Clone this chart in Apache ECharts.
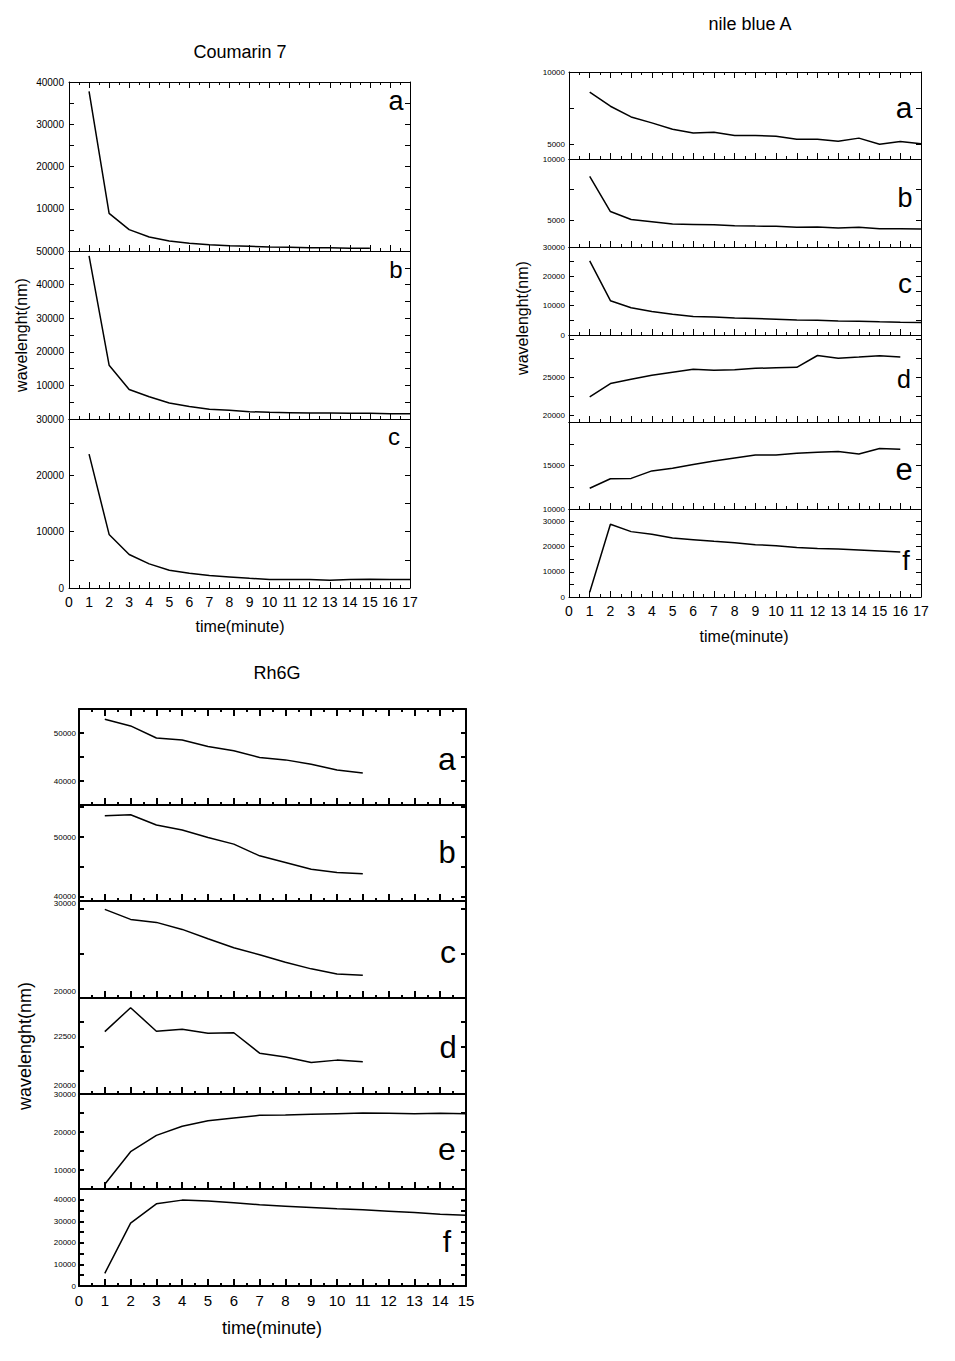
<!DOCTYPE html>
<html><head><meta charset="utf-8">
<script src="https://cdn.jsdelivr.net/npm/echarts@6/dist/echarts.min.js"></script>
<style>html,body{margin:0;padding:0;background:#fff}#c{width:955px;height:1361px}</style>
</head><body><div id="c"></div>
<script>
// ---------- time (x) values ----------
const T11 = [1,2,3,4,5,6,7,8,9,10,11];
const T15 = [1,2,3,4,5,6,7,8,9,10,11,12,13,14,15];
const T16 = [1,2,3,4,5,6,7,8,9,10,11,12,13,14,15,16];
const T17 = [1,2,3,4,5,6,7,8,9,10,11,12,13,14,15,16,17];

// ---------- Coumarin 7 ----------
const C7_a = [37790, 8920, 5050, 3310, 2370, 1810, 1500, 1260, 1100, 950, 870, 790, 790, 630, 630];
const C7_b = [48520, 16010, 8790, 6620, 4740, 3750, 2870, 2570, 2170, 1980, 1880, 1780, 1780, 1680, 1680, 1580, 1580];
const C7_c = [23770, 9510, 5940, 4280, 3150, 2610, 2200, 1960, 1720, 1490, 1490, 1490, 1370, 1490, 1540, 1490, 1490];

// ---------- nile blue A ----------
const NB_a = [8620, 7640, 6900, 6490, 6050, 5800, 5840, 5620, 5620, 5570, 5370, 5370, 5230, 5440, 5020, 5200, 5050];
const NB_b = [8580, 5700, 5050, 4870, 4680, 4650, 4620, 4540, 4510, 4490, 4410, 4430, 4350, 4410, 4300, 4300, 4270];
const NB_c = [25300, 11700, 9300, 8000, 7100, 6300, 6100, 5800, 5600, 5400, 5150, 5000, 4800, 4700, 4500, 4350, 4250];
const NB_d = [22480, 24220, 24780, 25300, 25700, 26090, 25960, 26040, 26220, 26300, 26350, 27910, 27560, 27700, 27870, 27700];
const NB_e = [12380, 13480, 13520, 14380, 14690, 15120, 15510, 15860, 16210, 16210, 16410, 16520, 16600, 16330, 16950, 16880];
const NB_f = [1870, 28930, 26000, 24930, 23470, 22800, 22130, 21600, 20800, 20400, 19730, 19330, 19070, 18670, 18270, 17870];

// ---------- Rh6G ----------
const RH_a = [52870, 51470, 48950, 48530, 47200, 46290, 44900, 44400, 43500, 42310, 41680];
const RH_b = [53580, 53740, 52010, 51170, 49940, 48830, 46870, 45750, 44640, 44080, 43860];
const RH_c = [29390, 28240, 27900, 27100, 26030, 25000, 24200, 23360, 22600, 22020, 21870];
const RH_d = [22770, 24000, 22790, 22890, 22690, 22710, 21660, 21460, 21180, 21300, 21220];
const RH_e = [6250, 14820, 19110, 21520, 22950, 23660, 24380, 24460, 24640, 24820, 25000, 24910, 24820, 24910, 24820];
const RH_f = [5890, 29150, 38140, 39840, 39380, 38600, 37670, 37050, 36430, 35810, 35350, 34730, 34110, 33330, 32870];

// ---------- y tick marks and tick labels ----------
const C7_a_ticks = [0,5000,10000,15000,20000,25000,30000,35000,40000];
const C7_a_labels = [10000,20000,30000,40000];
const C7_b_ticks = [0,5000,10000,15000,20000,25000,30000,35000,40000,45000,50000];
const C7_b_labels = [10000,20000,30000,40000,50000];
const C7_c_ticks = [0,5000,10000,15000,20000,25000,30000];
const C7_c_labels = [0,10000,20000,30000];

const NB_a_ticks = [5000,7500,10000];
const NB_a_labels = [5000,10000];
const NB_b_ticks = [5000,7500,10000];
const NB_b_labels = [5000,10000];
const NB_c_ticks = [0,5000,10000,15000,20000,25000,30000];
const NB_c_labels = [0,10000,20000,30000];
const NB_d_ticks = [20000,22500,25000,27500,30000];
const NB_d_labels = [20000,25000];
const NB_e_ticks = [10000,12500,15000,17500,20000];
const NB_e_labels = [10000,15000];
const NB_f_ticks = [0,5000,10000,15000,20000,25000,30000,35000];
const NB_f_labels = [0,10000,20000,30000];

const RH_a_ticks = [35000,40000,45000,50000,55000];
const RH_a_labels = [40000,50000];
const RH_b_ticks = [40000,45000,50000,55000];
const RH_b_labels = [40000,50000];
const RH_c_ticks = [24350,29400];
const RH_c_labels = [20000,30000];
const RH_d_ticks = [20770,21990,23270];
const RH_d_labels = [20000,22500];
const RH_e_ticks = [5000,10000,15000,20000,25000,30000];
const RH_e_labels = [10000,20000,30000];
const RH_f_ticks = [0,5000,10000,15000,20000,25000,30000,35000,40000,45000];
const RH_f_labels = [0,10000,20000,30000,40000];

const X17_labels = [0,1,2,3,4,5,6,7,8,9,10,11,12,13,14,15,16,17];
const X15_labels = [0,1,2,3,4,5,6,7,8,9,10,11,12,13,14,15];

// ---------- panel layout (positions / styles) ----------
const FONT = '"Liberation Sans", Arial, sans-serif';
const C7g = {left:69, width:341, xMax:17, yFont:10, yMargin:5, xFont:14, frame:1, tw:1, tl:6};
const NBg = {left:569, width:352, xMax:17, yFont:8, yMargin:4, xFont:14, frame:1, tw:1, tl:6};
const RHg = {left:79, width:387, xMax:15, yFont:8, yMargin:3, xFont:15, frame:2, tw:2, tl:7};

const panels = [
  Object.assign({}, C7g, {top:82,  height:169, x:T15, y:C7_a, yMin:0, yMax:40000, ticks:C7_a_ticks, labels:C7_a_labels, first:true}),
  Object.assign({}, C7g, {top:251, height:168, x:T17, y:C7_b, yMin:0, yMax:50000, ticks:C7_b_ticks, labels:C7_b_labels}),
  Object.assign({}, C7g, {top:419, height:169, x:T17, y:C7_c, yMin:0, yMax:30000, ticks:C7_c_ticks, labels:C7_c_labels, showX:true, xl:X17_labels}),

  Object.assign({}, NBg, {top:72,  height:87,  x:T17, y:NB_a, yMin:4000, yMax:10000, ticks:NB_a_ticks, labels:NB_a_labels, first:true}),
  Object.assign({}, NBg, {top:159, height:88,  x:T17, y:NB_b, yMin:2800, yMax:10000, ticks:NB_b_ticks, labels:NB_b_labels}),
  Object.assign({}, NBg, {top:247, height:88,  x:T17, y:NB_c, yMin:0, yMax:30000, ticks:NB_c_ticks, labels:NB_c_labels}),
  Object.assign({}, NBg, {top:335, height:87,  x:T16, y:NB_d, yMin:19170, yMax:30600, ticks:NB_d_ticks, labels:NB_d_labels}),
  Object.assign({}, NBg, {top:422, height:87,  x:T16, y:NB_e, yMin:10000, yMax:20000, ticks:NB_e_ticks, labels:NB_e_labels}),
  Object.assign({}, NBg, {top:509, height:88,  x:T16, y:NB_f, yMin:0, yMax:35000, ticks:NB_f_ticks, labels:NB_f_labels, showX:true, xl:X17_labels}),

  Object.assign({}, RHg, {top:709,  height:96, x:T11, y:RH_a, yMin:35000, yMax:55000, ticks:RH_a_ticks, labels:RH_a_labels, first:true}),
  Object.assign({}, RHg, {top:805,  height:96, x:T11, y:RH_b, yMin:39330, yMax:55360, ticks:RH_b_ticks, labels:RH_b_labels}),
  Object.assign({}, RHg, {top:901,  height:97, x:T11, y:RH_c, yMin:19275, yMax:30340, ticks:RH_c_ticks, labels:RH_c_labels}),
  Object.assign({}, RHg, {top:998,  height:96, x:T11, y:RH_d, yMin:19555, yMax:24500, ticks:RH_d_ticks, labels:RH_d_labels}),
  Object.assign({}, RHg, {top:1094, height:95, x:T15, y:RH_e, yMin:5000, yMax:30000, ticks:RH_e_ticks, labels:RH_e_labels}),
  Object.assign({}, RHg, {top:1189, height:97, x:T15, y:RH_f, yMin:0, yMax:45000, ticks:RH_f_ticks, labels:RH_f_labels, showX:true, xl:X15_labels})
];

const plain = v => String(Math.round(v));
const grid = [], xAxis = [], yAxis = [], series = [];
panels.forEach((p, i) => {
  grid.push({left:p.left, top:p.top, width:p.width, height:p.height, containLabel:false});
  const line = {show:true, onZero:false, lineStyle:{color:'#000', width:p.frame}};
  const tick = (show, len, cv) => {
    const t = {show:show, inside:true, length:len, lineStyle:{color:'#000', width:p.tw}};
    if (cv) t.customValues = cv;
    return t;
  };
  const minor = show => ({show:show, splitNumber:2, length:3, lineStyle:{color:'#000', width:p.tw}});
  const xb = {type:'value', gridIndex:i, min:0, max:p.xMax, interval:1, axisLine:line,
              splitLine:{show:false}, minorSplitLine:{show:false}};
  xAxis.push(Object.assign({}, xb, {
    position:'bottom', axisTick:tick(true, p.tl), minorTick:minor(true),
    axisLabel: p.showX ? {show:true, color:'#000', fontSize:p.xFont, fontFamily:FONT, margin:7, customValues:p.xl, formatter:plain} : {show:false}
  }));
  xAxis.push(Object.assign({}, xb, {
    position:'top', axisTick:tick(!!p.first, p.tl), minorTick:minor(!!p.first), axisLabel:{show:false}
  }));
  const yb = {type:'value', gridIndex:i, min:p.yMin, max:p.yMax, axisLine:line,
              splitLine:{show:false}, axisTick:tick(true, 5, p.ticks)};
  yAxis.push(Object.assign({}, yb, {
    position:'left',
    axisLabel:{show:true, color:'#000', fontSize:p.yFont, fontFamily:FONT, margin:p.yMargin, customValues:p.labels, formatter:plain}
  }));
  yAxis.push(Object.assign({}, yb, {position:'right', axisLabel:{show:false}}));
  series.push({
    type:'line', xAxisIndex:2*i, yAxisIndex:2*i,
    data:p.x.map((t, k) => [t, p.y[k]]),
    showSymbol:false, symbol:'none', silent:true,
    lineStyle:{color:'#000', width:1.5}
  });
});

function txt(s, x, y, size, rot) {
  return {type:'text', x:x, y:y, rotation:rot || 0, silent:true,
    style:{text:s, fill:'#000', font:size + 'px ' + FONT, textAlign:'center', textVerticalAlign:'middle'}};
}
// panel letters: [letter, x, baseline, size]
const letters = [
  ['a',396,110,27],['b',396,278,24],['c',394,445,24],
  ['a',904,118,30],['b',905,207,27],['c',905,293,28],['d',904,388,25],['e',904,480,31],['f',906,570,27],
  ['a',447,770,32],['b',447,863,31],['c',448,963,32],['d',448,1058,31],['e',447,1160,32],['f',447,1252,30]
];
const graphic = [
  txt('Coumarin 7', 240, 52, 18),
  txt('nile blue A', 750, 24, 18),
  txt('Rh6G', 277, 673, 18),
  txt('time(minute)', 240, 626, 16),
  txt('time(minute)', 744, 636, 16),
  txt('time(minute)', 272, 1328, 18),
  txt('wavelenght(nm)', 21, 335, 16, Math.PI/2),
  txt('wavelenght(nm)', 522, 318, 16, Math.PI/2),
  txt('wavelenght(nm)', 25, 1046, 18, Math.PI/2)
];
letters.forEach(l => graphic.push(txt(l[0], l[1], l[2] - 0.35*l[3], l[3])));

const chart = echarts.init(document.getElementById('c'), null, {renderer:'svg'});
chart.setOption({animation:false, backgroundColor:'#fff', grid, xAxis, yAxis, series, graphic});
</script></body></html>
